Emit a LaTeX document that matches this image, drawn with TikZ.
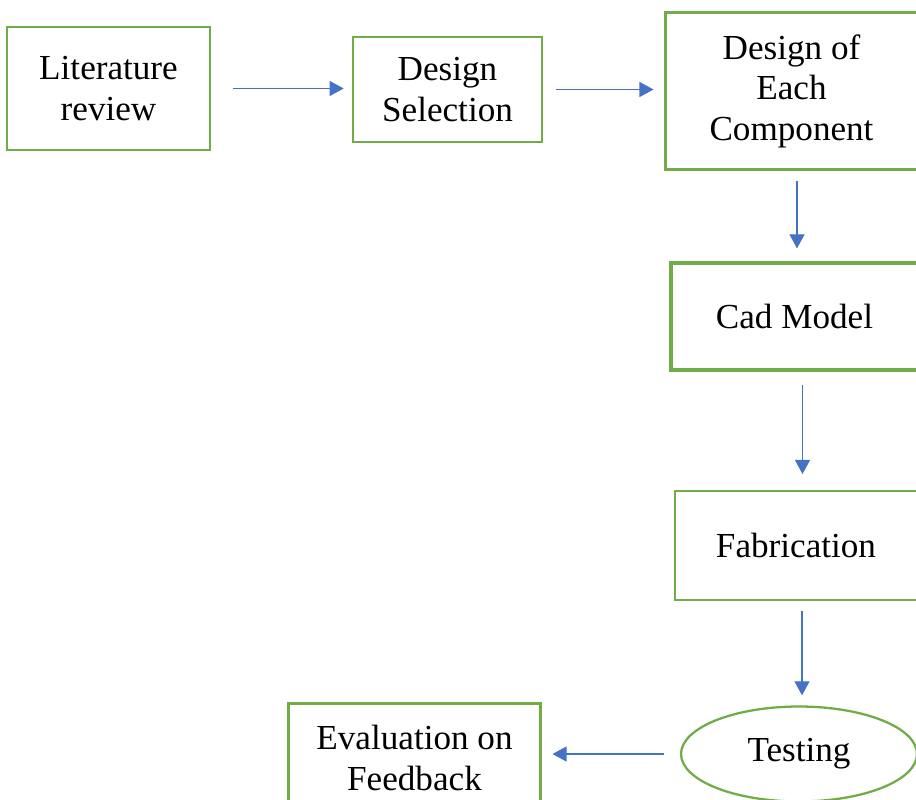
\documentclass[tikz,border=0pt]{standalone}
\usepackage{fontspec}
\setmainfont{Liberation Serif}
\usetikzlibrary{arrows.meta,shapes.geometric}
\definecolor{boxgreen}{RGB}{112,173,71}
\definecolor{arrblue}{RGB}{68,114,196}
\begin{document}
\begin{tikzpicture}[x=0.02cm,y=-0.02cm,
  stepbox/.style={draw=boxgreen,line width=1.5pt,fill=white,inner sep=0pt,align=center,
    font=\fontsize{20}{23}\selectfont},
  ovalbox/.style={stepbox,ellipse},
  arr/.style={draw=arrblue,line width=0.7pt,-{Triangle[length=8pt,width=8.5pt]}}]
\useasboundingbox (0,0) rectangle (916,800);
\clip (0,0) rectangle (916,800);
\node[stepbox,line width=1.3pt,minimum width=4.06cm,minimum height=2.46cm] (lit) at (108.5,88.5) {Literature\\review};
\node[stepbox,minimum width=3.78cm,minimum height=2.10cm] (des) at (447.5,89.5) {Design\\Selection};
\node[stepbox,line width=1.7pt,minimum width=5.06cm,minimum height=3.16cm] (doec) at (791.5,91) {Design of\\Each\\Component};
\node[stepbox,line width=1.8pt,minimum width=4.94cm,minimum height=2.14cm] (cad) at (794.5,316.5) {Cad Model};
\node[stepbox,line width=1.1pt,minimum width=4.84cm,minimum height=2.18cm] (fab) at (796,545.5) {Fabrication};
\node[ovalbox,line width=1.3pt,minimum width=4.72cm,minimum height=1.90cm] (test) at (799,754) {Testing};
\node[stepbox,line width=1.7pt,minimum width=5.06cm,minimum height=2.20cm] (eval) at (414.5,758) {Evaluation on\\Feedback};
\draw[arr,shorten <=0.44cm,shorten >=0.16cm] (lit.east) -- (lit.east -| des.west);
\draw[arr,shorten <=0.26cm,shorten >=0.2cm] (des.east) -- (des.east -| doec.west);
\draw[arr,shorten <=0.2cm,shorten >=0.26cm] ([xshift=0.11cm]doec.south) -- ([xshift=0.11cm]doec.south |- cad.north);
\draw[arr,shorten <=0.26cm,shorten >=0.32cm] ([xshift=0.16cm]cad.south) -- ([xshift=0.16cm]cad.south |- fab.north);
\draw[arr,shorten <=0.2cm,shorten >=0.2cm] ([xshift=0.12cm]fab.south) -- ([xshift=0.12cm]fab.south |- test.north);
\draw[arr,shorten <=0.32cm,shorten >=0.2cm] (test.west) -- (test.west -| eval.east);
\end{tikzpicture}
\end{document}
